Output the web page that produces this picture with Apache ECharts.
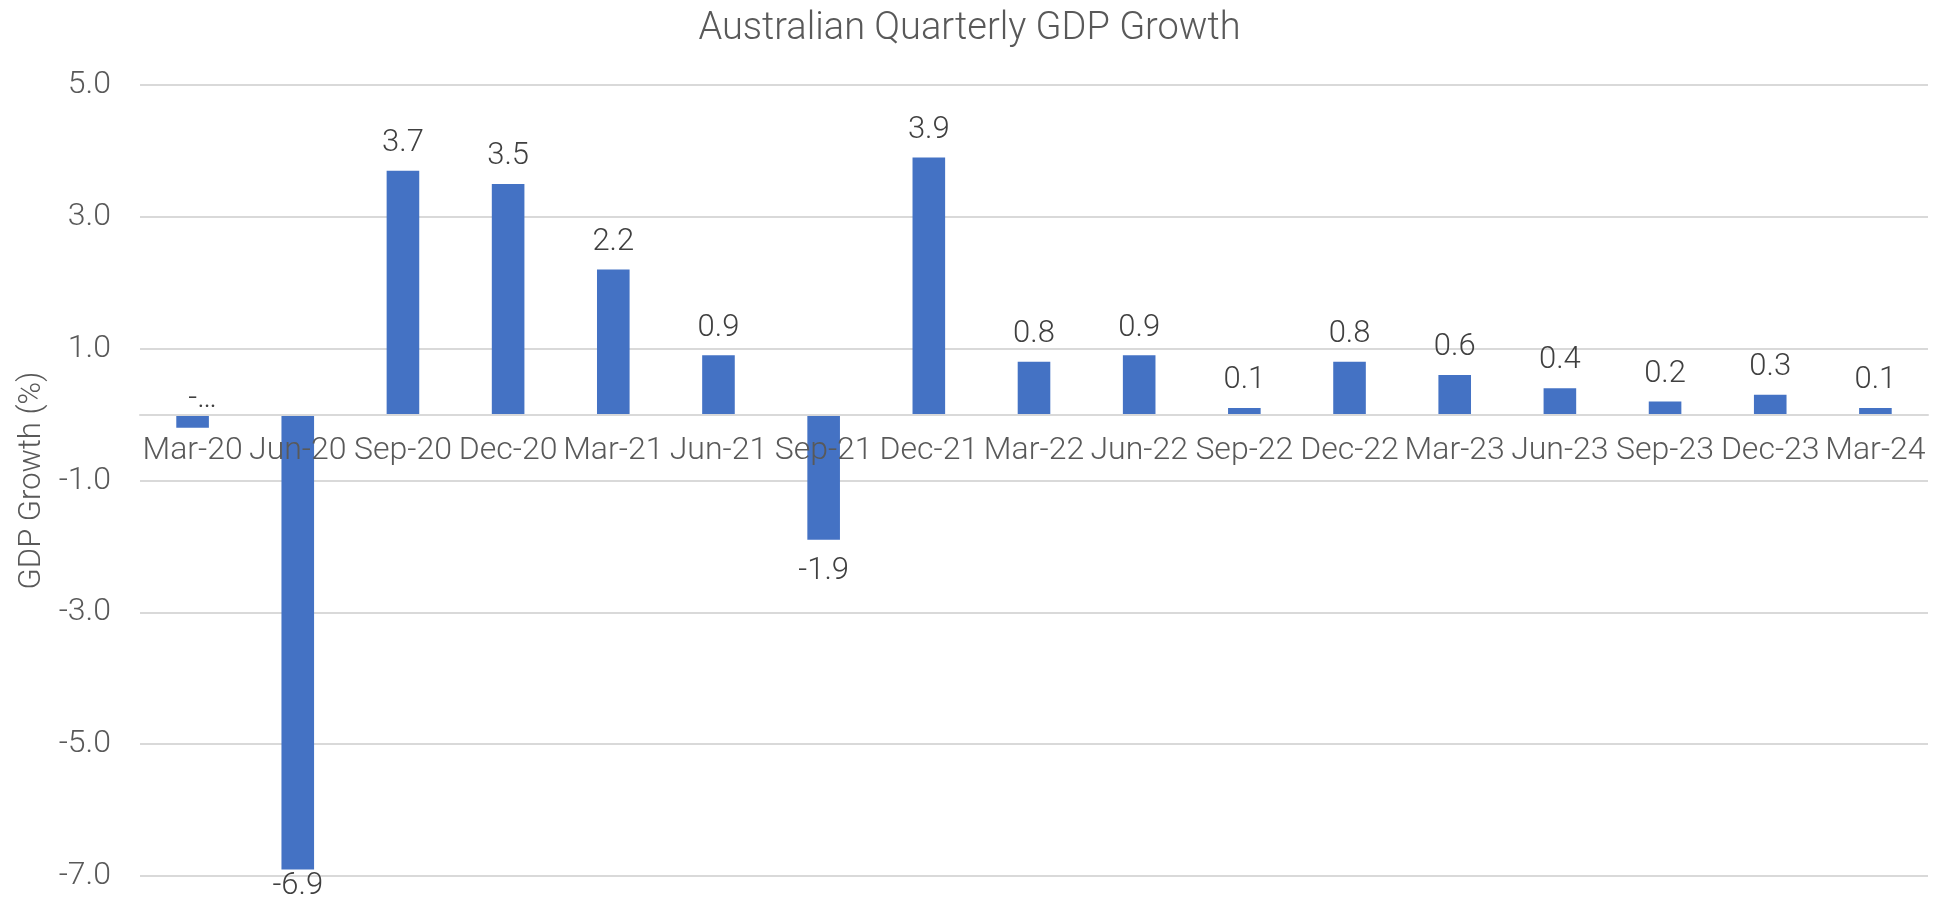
<!DOCTYPE html>
<html>
<head>
<meta charset="utf-8">
<script src="https://cdn.jsdelivr.net/npm/echarts@6/dist/echarts.min.js"></script>
<style>html,body{margin:0;padding:0;background:#fff}#c{width:1939px;height:898px}</style>
</head>
<body>
<div id="c"></div>
<script>
const categories = ['Mar-20','Jun-20','Sep-20','Dec-20','Mar-21','Jun-21','Sep-21','Dec-21','Mar-22','Jun-22','Sep-22','Dec-22','Mar-23','Jun-23','Sep-23','Dec-23','Mar-24'];
const gdpGrowth = [-0.2, -6.9, 3.7, 3.5, 2.2, 0.9, -1.9, 3.9, 0.8, 0.9, 0.1, 0.8, 0.6, 0.4, 0.2, 0.3, 0.1];
const yMin = -7, yMax = 5;
const titleText = 'Australian Quarterly GDP Growth';
const yAxisName = 'GDP Growth (%)';
const truncatedLabels = {0: '-\u2026'};

const FONT = 'Roboto';
const W = 1939, H = 898;
const GRID = {left: 140, right: 11, top: 85, bottom: 22};
const gridHeight = H - GRID.top - GRID.bottom;
const zeroOffset = -gridHeight * (0 - yMin) / (yMax - yMin);

const chart = echarts.init(document.getElementById('c'), null, {renderer: 'canvas'});

const data = gdpGrowth.map((v, i) => {
  const item = {value: v, label: {position: v < 0 ? 'bottom' : 'top', distance: v < 0 ? 16 : 12}};
  if (truncatedLabels[i] !== undefined) {
    item.label = {position: 'top', distance: 14, formatter: truncatedLabels[i]};
    item.labelLine = {show: true, lineStyle: {color: '#a6a6a6', width: 2}};
  }
  return item;
});

chart.setOption({
  animation: false,
  backgroundColor: '#ffffff',
  title: {
    text: titleText,
    left: 'center',
    top: 5,
    textStyle: {fontFamily: FONT, fontWeight: 300, fontSize: 38, color: '#595959'}
  },
  grid: Object.assign({containLabel: false, outerBoundsMode: 'none'}, GRID),
  xAxis: {
    type: 'category',
    data: categories,
    offset: zeroOffset,
    z: 10,
    axisLine: {show: true, onZero: false, lineStyle: {color: '#d9d9d9', width: 2}},
    axisTick: {show: false},
    axisLabel: {fontFamily: FONT, fontWeight: 300, fontSize: 32, color: '#595959', margin: 20, interval: 0}
  },
  yAxis: {
    type: 'value',
    min: yMin,
    max: yMax,
    interval: 1,
    name: yAxisName,
    nameLocation: 'middle',
    nameGap: 92,
    nameTextStyle: {fontFamily: FONT, fontWeight: 300, fontSize: 31, color: '#595959'},
    axisLine: {show: false},
    axisTick: {show: false},
    axisLabel: {
      fontFamily: FONT, fontWeight: 300, fontSize: 32, color: '#595959', margin: 29,
      formatter: v => (Math.round(v) % 2 !== 0 ? v.toFixed(1) : '')
    },
    splitLine: {show: true, lineStyle: {color: ['#d9d9d9', 'rgba(0,0,0,0)'], width: 2}}
  },
  series: [{
    type: 'bar',
    data: data,
    barWidth: '31%',
    itemStyle: {color: '#4472C4'},
    label: {
      show: true,
      fontFamily: FONT, fontWeight: 300, fontSize: 31, color: '#404040',
      formatter: p => (typeof p.value === 'number' ? p.value.toFixed(1) : p.value)
    },
    labelLayout: p => {
      if (truncatedLabels[p.dataIndex] !== undefined) return {dx: 10, dy: 14};
      const over = p.labelRect.y + p.labelRect.height - H;
      return over > 0 ? {dy: -over + 4} : {};
    }
  }]
});
</script>
</body>
</html>
